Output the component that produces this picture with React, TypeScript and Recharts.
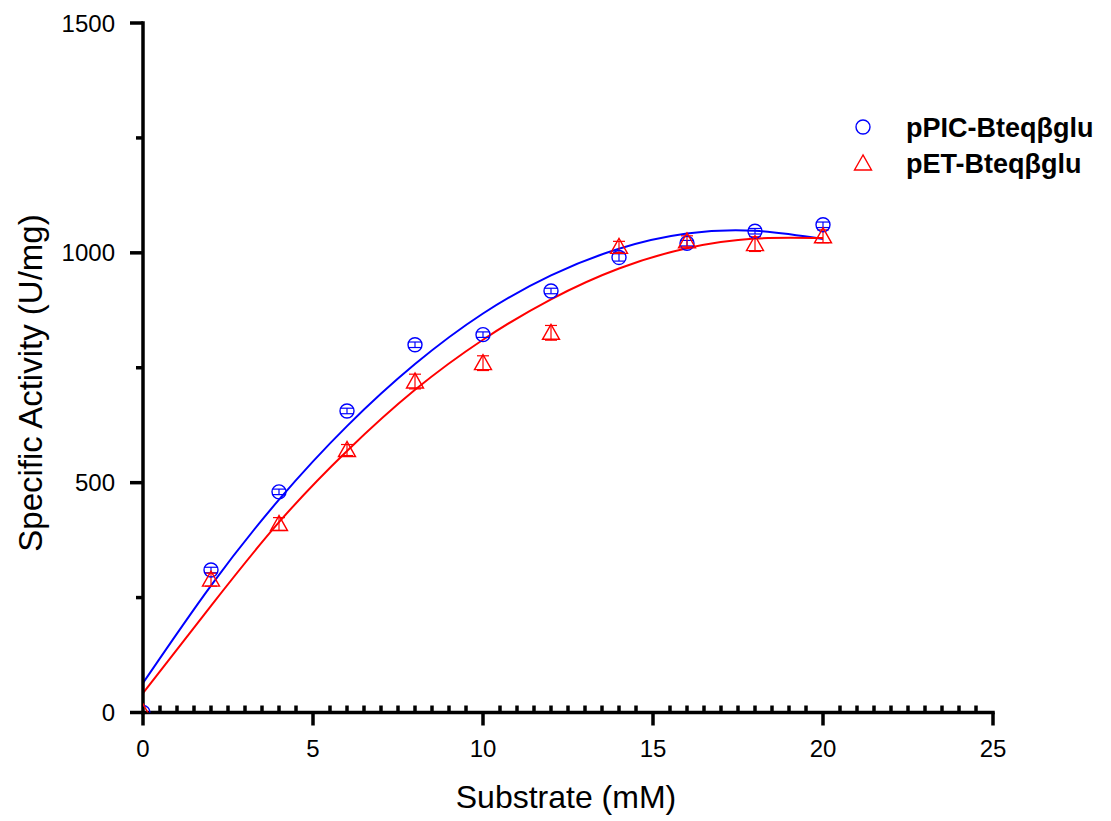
import React from "react";
import {
  ComposedChart,
  XAxis,
  YAxis,
  Scatter,
  Line,
  ErrorBar,
  Customized,
} from "recharts";

// ---- data ----
const substrate = [0, 2, 4, 6, 8, 10, 12, 14, 16, 18, 20];
const picActivity = [0, 310, 480, 656, 800, 822, 917, 990, 1021, 1047, 1061];
const picError = [0, 6, 6, 6, 6, 6, 6, 8, 6, 6, 6];
const etActivity = [0, 289, 410, 571, 720, 760, 826, 1013, 1025, 1019, 1036];
const etError = [0, 14, 14, 12, 16, 16, 16, 12, 12, 16, 14];

const fitX = [0, 2, 4, 6, 8, 10, 12, 14, 16, 18, 20];
const picFit = [64, 276, 463, 623, 758, 868, 951, 1009, 1042, 1048, 1030];
const etFit = [42, 232, 414, 569, 702, 811, 899, 966, 1010, 1031, 1032];

const xMajorTicks = [0, 5, 10, 15, 20, 25];
const yMajorTicks = [0, 500, 1000, 1500];

const seriesNames = ["pPIC-Bteq\u03B2glu", "pET-Bteq\u03B2glu"];
const xTitle = "Substrate (mM)";
const yTitle = "Specific Activity (U/mg)";

// ---- derived tables ----
const picData = substrate.map((x, i) => ({ x, y: picActivity[i], err: picError[i] }));
const etData = substrate.map((x, i) => ({ x, y: etActivity[i], err: etError[i] }));
const picFitData = fitX.map((x, i) => ({ x, y: picFit[i] }));
const etFitData = fitX.map((x, i) => ({ x, y: etFit[i] }));

const xTicks: number[] = [];
for (let i = 0; i < xMajorTicks.length - 1; i++) {
  const a = xMajorTicks[i];
  const b = xMajorTicks[i + 1];
  for (let k = 0; k < 10; k++) xTicks.push(a + ((b - a) * k) / 10);
}
xTicks.push(xMajorTicks[xMajorTicks.length - 1]);

const yTicks: number[] = [];
for (let i = 0; i < yMajorTicks.length - 1; i++) {
  yTicks.push(yMajorTicks[i], (yMajorTicks[i] + yMajorTicks[i + 1]) / 2);
}
yTicks.push(yMajorTicks[yMajorTicks.length - 1]);

const BLUE = "#0000ff";
const RED = "#ff0000";
const FONT = "'Liberation Sans', Arial, Helvetica, sans-serif";
const AXIS_W = 3.5;

const isMajor = (v: number, list: number[]) => list.some((m) => Math.abs(m - v) < 1e-6);

const XTick = (props: any) => {
  const { x, y, payload } = props;
  const v = payload.value;
  if (isMajor(v, xMajorTicks)) {
    return (
      <g>
        <line x1={x} x2={x} y1={y} y2={y + 13} stroke="#000" strokeWidth={AXIS_W} />
        <text x={x} y={y + 44} textAnchor="middle" fontSize={24} fontFamily={FONT} fill="#000">
          {v}
        </text>
      </g>
    );
  }
  return <line x1={x} x2={x} y1={y} y2={y - 7} stroke="#000" strokeWidth={AXIS_W} />;
};

const YTick = (props: any) => {
  const { x, y, payload } = props;
  const v = payload.value;
  if (isMajor(v, yMajorTicks)) {
    return (
      <g>
        <line x1={x} x2={x - 13} y1={y} y2={y} stroke="#000" strokeWidth={AXIS_W} />
        <text x={x - 28} y={y + 8.5} textAnchor="end" fontSize={24} fontFamily={FONT} fill="#000">
          {v}
        </text>
      </g>
    );
  }
  return <line x1={x} x2={x - 7} y1={y} y2={y} stroke="#000" strokeWidth={AXIS_W} />;
};

const CircleMark = (p: any) => (
  <circle cx={p.cx} cy={p.cy} r={7} fill="none" stroke={BLUE} strokeWidth={1.4} />
);

const TriMark = (p: any) => (
  <polygon
    points={`${p.cx},${p.cy - 8.5} ${p.cx - 8.5},${p.cy + 6.5} ${p.cx + 8.5},${p.cy + 6.5}`}
    fill="none"
    stroke={RED}
    strokeWidth={1.4}
  />
);

const Decorations = () => (
  <g fontFamily={FONT}>
    <text x={566} y={808} textAnchor="middle" fontSize={32} fill="#000">
      {xTitle}
    </text>
    <text
      x={42}
      y={383}
      textAnchor="middle"
      fontSize={33}
      fill="#000"
      transform="rotate(-90 42 383)"
    >
      {yTitle}
    </text>
    <circle cx={863} cy={127} r={7} fill="none" stroke={BLUE} strokeWidth={1.4} />
    <text x={906} y={137} fontSize={27} fontWeight="bold" fill="#000">
      {seriesNames[0]}
    </text>
    <polygon points="863,155 854.5,170 871.5,170" fill="none" stroke={RED} strokeWidth={1.4} />
    <text x={906} y={173} fontSize={27} fontWeight="bold" fill="#000">
      {seriesNames[1]}
    </text>
  </g>
);

export default function App() {
  return (
    <div style={{ position: "absolute", left: 0, top: 0, width: 1111, height: 821, background: "#fff" }}>
      <ComposedChart
        width={1111}
        height={821}
        margin={{ top: 23, right: 118, bottom: 0, left: 0 }}
      >
        <XAxis
          type="number"
          dataKey="x"
          domain={[0, 25]}
          ticks={xTicks}
          interval={0}
          tick={<XTick />}
          tickLine={false}
          tickSize={0}
          tickMargin={0}
          height={108.5}
          allowDataOverflow
          axisLine={{ stroke: "#000", strokeWidth: AXIS_W, strokeLinecap: "square" }}
        />
        <YAxis
          type="number"
          domain={[0, 1500]}
          ticks={yTicks}
          interval={0}
          tick={<YTick />}
          tickLine={false}
          tickSize={0}
          tickMargin={0}
          width={143}
          allowDataOverflow
          axisLine={{ stroke: "#000", strokeWidth: AXIS_W, strokeLinecap: "square" }}
        />
        <Line
          data={picFitData}
          dataKey="y"
          type="natural"
          dot={false}
          stroke={BLUE}
          strokeWidth={2}
          isAnimationActive={false}
        />
        <Line
          data={etFitData}
          dataKey="y"
          type="natural"
          dot={false}
          stroke={RED}
          strokeWidth={2}
          isAnimationActive={false}
        />
        <Scatter data={picData} dataKey="y" shape={<CircleMark />} isAnimationActive={false}>
          <ErrorBar dataKey="err" direction="y" width={6} stroke={BLUE} strokeWidth={1.2} />
        </Scatter>
        <Scatter data={etData} dataKey="y" shape={<TriMark />} isAnimationActive={false}>
          <ErrorBar dataKey="err" direction="y" width={6} stroke={RED} strokeWidth={1.2} />
        </Scatter>
        <Customized component={<Decorations />} />
      </ComposedChart>
    </div>
  );
}
